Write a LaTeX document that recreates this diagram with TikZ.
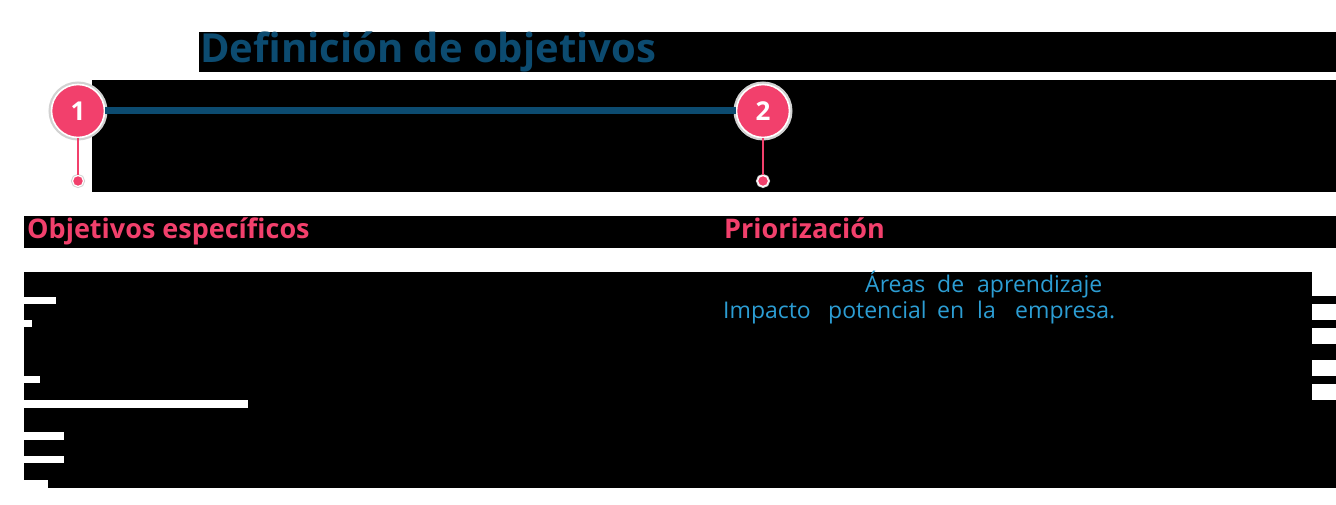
\documentclass[tikz,border=0pt]{standalone}
\usepackage{fontspec}
\setmainfont{Open Sans}
\usepackage{tikz}
\definecolor{titleblue}{HTML}{0C4B70}
\definecolor{stepink}{HTML}{F2406C}
\definecolor{wordblue}{HTML}{2C9DD3}

\begin{document}
\begin{tikzpicture}[x=1pt, y=-1pt,
  stepcircle/.style={circle, fill=stepink, draw=white, line width=1.6pt, minimum size=53pt, inner sep=0pt,
    text=white, font=\fontsize{26}{28}\selectfont\bfseries, preaction={draw=gray!35, line width=6pt}},
  stepdot/.style={circle, fill=stepink, draw=white, line width=1.2pt, minimum size=11pt, inner sep=0pt,
    preaction={draw=gray!35, line width=3pt}},
  heading/.style={anchor=base west, inner sep=0pt, text=stepink, font=\fontsize{27}{30}\selectfont\bfseries},
  bodyword/.style={anchor=base west, inner sep=0pt, text=wordblue, font=\fontsize{23}{26}\selectfont}]
\useasboundingbox[fill=white] (0,0) rectangle (1336,505);
% black bands
\fill (199,32) rectangle (1336,72);
\fill (92,80) rectangle (1336,192);
\fill (24,216) rectangle (1336,248);
\fill (24,272) rectangle (1336,488);
\foreach \ya/\yb in {272/296,304/320,328/344,360/376,384/400} \fill[white] (1312,\ya) rectangle (1336,\yb);
\foreach \ya/\yb/\xb in {297/304/56,320/327/32,376/383/40,400/408/248,432/440/64,456/463/64,480/488/48}
  \fill[white] (24,\ya) rectangle (\xb,\yb);
% title
\node[anchor=base west, inner sep=0pt, text=titleblue, font=\fontsize{40}{46}\selectfont\bfseries] (title) at (200,63) {Definición de objetivos};
% timeline
\node[stepcircle] (c1) at (78,111) {1};
\node[stepcircle] (c2) at (763,111) {2};
\draw[titleblue, line width=7pt] (c1) -- (c2);
\node[stepdot] (d1) at (78,181) {};
\node[stepdot] (d2) at (763,181) {};
\draw[stepink, line width=1.5pt] (c1) -- (d1);
\draw[stepink, line width=1.5pt] (c2) -- (d2);
% headings
\node[heading] (h1) at (27,239) {Objetivos específicos};
\node[heading] (h2) at (724,239) {Priorización};
% visible words
\foreach \w/\x/\y [count=\i] in {Áreas/865/292, de/937/292, aprendizaje/977/292, Impacto/723/318,
  potencial/828/318, en/937/318, la/977/318, empresa./1015/318}
  \node[bodyword] (w\i) at (\x,\y) {\w};
\end{tikzpicture}
\end{document}
